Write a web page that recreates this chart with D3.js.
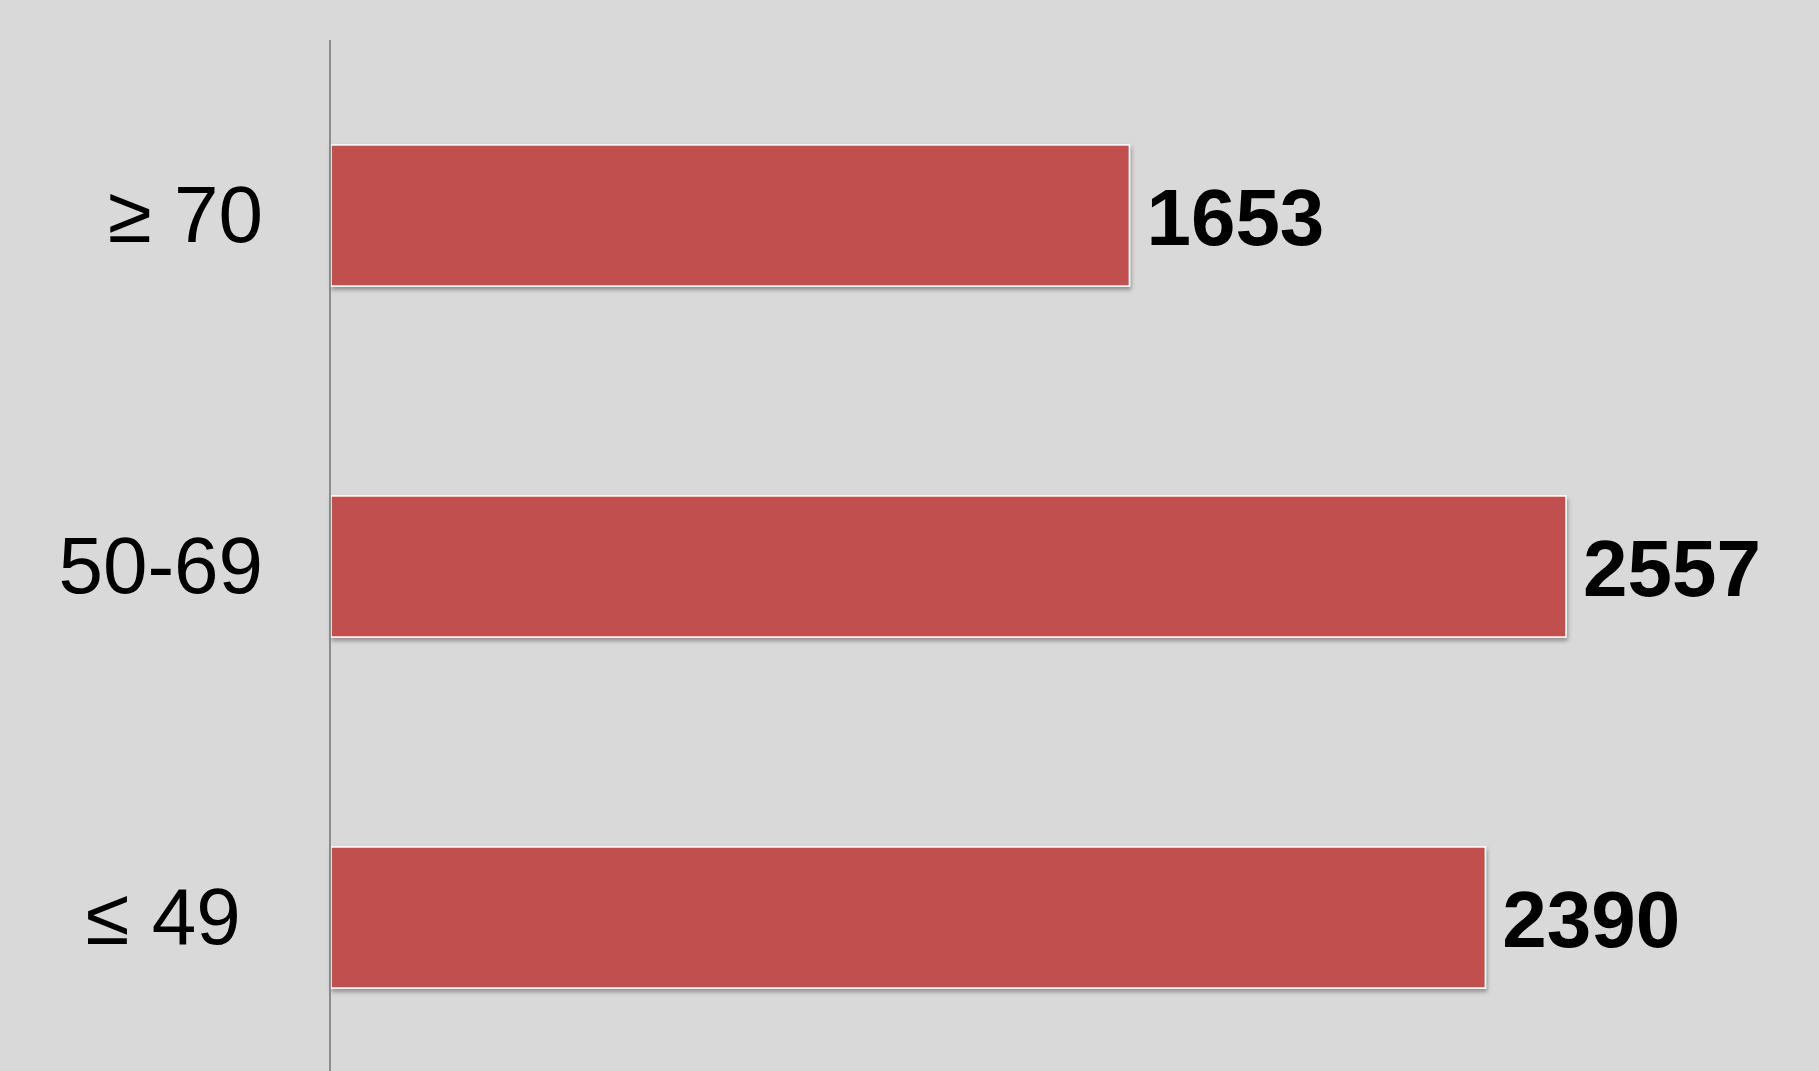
<!DOCTYPE html>
<html>
<head>
<meta charset="utf-8">
<script src="https://cdn.jsdelivr.net/npm/d3@7"></script>
<style>
  html, body { margin: 0; padding: 0; background: #d9d9d9; }
  svg { display: block; font-family: "Liberation Sans", Arial, sans-serif; }
</style>
</head>
<body>
<div id="chart"></div>
<script>
// data
const categories = ["≥ 70", "50-69", "≤ 49\u00a0"];
const counts = [1653, 2557, 2390];

const W = 1819, H = 1071;
const axisX = 330;

const svg = d3.select("#chart").append("svg")
  .attr("width", W)
  .attr("height", H);

svg.append("rect").attr("width", W).attr("height", H).attr("fill", "#d9d9d9");

// shadow under the bars
const defs = svg.append("defs");
const f = defs.append("filter").attr("id", "shadow")
  .attr("x", "-5%").attr("y", "-10%").attr("width", "110%").attr("height", "130%");
f.append("feDropShadow")
  .attr("dx", 1).attr("dy", 3).attr("stdDeviation", 2)
  .attr("flood-color", "#000").attr("flood-opacity", 0.35);

const x = d3.scaleLinear().domain([0, 3000]).range([axisX + 1, axisX + 1 + 1449]);
const y = d3.scaleBand().domain(categories).range([40, 1093]).paddingInner(0.598).paddingOuter(0.299);

// bars
svg.append("g").selectAll("rect")
  .data(categories)
  .join("rect")
  .attr("x", x(0))
  .attr("y", d => y(d))
  .attr("width", (d, i) => x(counts[i]) - x(0))
  .attr("height", y.bandwidth())
  .attr("fill", "#c0504d")
  .attr("stroke", "#ffffff")
  .attr("stroke-width", 1.5)
  .attr("filter", "url(#shadow)");

// value labels
svg.append("g").selectAll("text")
  .data(categories)
  .join("text")
  .attr("x", (d, i) => x(counts[i]) + 17)
  .attr("y", d => y(d) + y.bandwidth() / 2 + 29)
  .style("font-size", "80px")
  .style("font-weight", "700")
  .attr("fill", "#000")
  .text((d, i) => counts[i]);

// category axis
const axis = svg.append("g")
  .attr("transform", `translate(${axisX},0)`)
  .call(d3.axisLeft(y).tickSize(0).tickPadding(67));
axis.select(".domain").remove();
axis.selectAll("text")
  .attr("dy", null)
  .attr("y", 26)
  .style("font-size", "80px")
  .style("font-family", "'Liberation Sans', Arial, sans-serif")
  .attr("fill", "#000");

svg.append("line")
  .attr("x1", axisX).attr("x2", axisX)
  .attr("y1", 40).attr("y2", H)
  .attr("stroke", "#8c8c8c")
  .attr("stroke-width", 2);
</script>
</body>
</html>
